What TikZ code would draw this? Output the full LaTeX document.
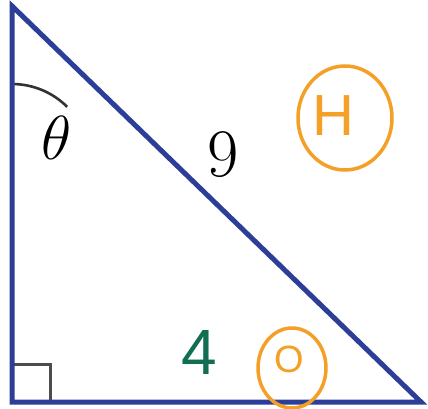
\documentclass[tikz,border=0pt]{standalone}
\usepackage{fontspec}
\usepackage{xcolor}
\newfontfamily\handfont{Liberation Sans}
\definecolor{triblue}{RGB}{44, 62, 152}
\definecolor{penorange}{RGB}{244, 160, 38}
\definecolor{pengreen}{RGB}{18, 110, 82}

\begin{document}
\begin{tikzpicture}[x=1pt, y=-1pt]
		\useasboundingbox (0,0) rectangle (428,409);
		% Vertices of the triangle
		\coordinate (top) at (12, 6);
		\coordinate (corner) at (12, 402);
		\coordinate (tip) at (421, 402);
		
		% Marks for the angles
		\draw[line width=3pt, black!70] (12, 364) -| (50, 402);
		\draw[line width=2.6pt, black!80] (12, 84) arc[start angle=-90, end angle=-45, radius=78];
		
		% Sides
		\draw[line width=5pt, triblue, line join=miter] (top) -- (corner) -- (tip) -- cycle;
		
		% Labels of the figure
		\node[scale=2.5] (theta) at (57, 138) {\Huge$\theta$};
		\node (hyp) at (223, 155) {\fontsize{68}{68}\selectfont 9};
		
		% Pen notes
		\node[text=penorange] (H) at (333, 116) {\handfont\fontsize{58}{58}\selectfont H};
		\draw[penorange, line width=3.5pt] (H) ++(12, 2) ellipse[x radius=47, y radius=52];
		\node[text=pengreen] (adj) at (199, 352) {\handfont\fontsize{64}{64}\selectfont 4};
		\node[text=penorange] (opp) at (289, 359) {\handfont\fontsize{38}{38}\selectfont O};
		\draw[penorange, line width=3.5pt] (opp) ++(3, 9) ellipse[x radius=34, y radius=40];
	\end{tikzpicture}
\end{document}
